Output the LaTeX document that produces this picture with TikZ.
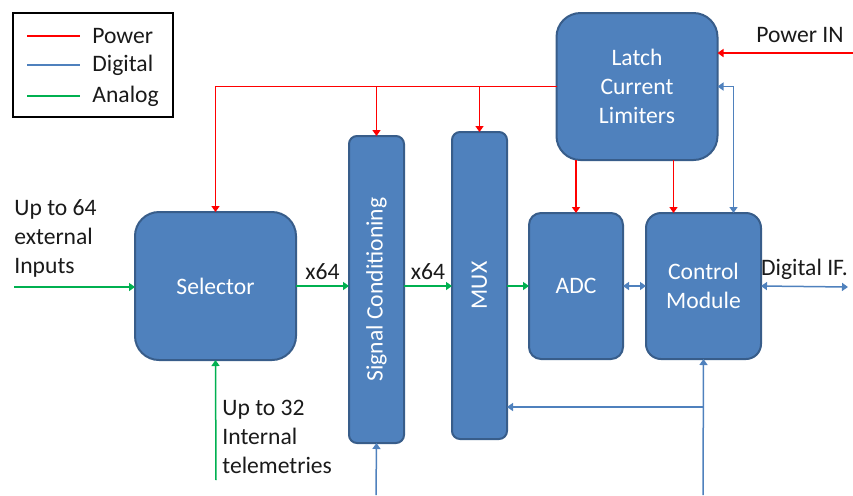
\documentclass[tikz,border=0pt]{standalone}
\usepackage{fontspec}
\setmainfont{Carlito}
\usetikzlibrary{arrows.meta}
\definecolor{boxblue}{HTML}{4F81BD}
\definecolor{boxedge}{HTML}{385D8A}
\definecolor{pwrred}{HTML}{FF0000}
\definecolor{anagreen}{HTML}{00B050}
\definecolor{txtgray}{HTML}{1A1A1A}
\tikzset{
  blk/.style={draw=boxedge,fill=boxblue,line width=1pt,text=white,align=center,outer sep=0pt,inner sep=0pt},
  pwr/.style={pwrred,line width=0.75pt},
  dig/.style={boxblue,line width=0.75pt},
  ana/.style={anagreen,line width=0.75pt},
  lbl/.style={inner sep=0pt,align=left,text=txtgray}
}
\begin{document}
\begin{tikzpicture}[x=0.5pt,y=-0.5pt,>={Triangle[width=4pt,length=3pt]},font=\fontsize{11.8}{14.5}\selectfont]
  \useasboundingbox (0,0) rectangle (853,495);
  % legend
  \draw[line width=0.6pt] (13,13) rectangle (173,117);
  \draw[pwr] (27,36) -- (80,36);
  \draw[dig] (27,65) -- (80,65);
  \draw[ana] (27,96) -- (80,96);
  \node[lbl,anchor=west] (lpwr) at (92,36) {Power};
  \node[lbl,anchor=west] (ldig) at (92,65) {Digital};
  \node[lbl,anchor=west] (lana) at (92,96) {Analog};
  % blocks
  \node[blk,rounded corners=12pt,minimum width=80.5pt,minimum height=73.5pt] (latch) at (637,86.5) {Latch\\Current\\Limiters};
  \node[blk,rounded corners=12pt,minimum width=80.5pt,minimum height=74pt] (sel) at (215.5,286) {Selector};
  \node[blk,rounded corners=4pt,minimum width=27.5pt,minimum height=153.5pt] (sig) at (376.5,289.5) {};
  \node[text=white,rotate=90] (sigtxt) at (sig.center) {Signal Conditioning};
  \node[blk,rounded corners=4pt,minimum width=27.5pt,minimum height=153.5pt] (mux) at (479.5,285.5) {};
  \node[text=white,rotate=90] (muxtxt) at (mux.center) {MUX};
  \node[blk,rounded corners=6pt,minimum width=47pt,minimum height=73pt] (adc) at (576,286) {ADC};
  \node[blk,rounded corners=7.5pt,minimum width=57.5pt,minimum height=73pt] (ctrl) at (703.5,286) {Control\\Module};
  % free ends
  \coordinate (pin) at (853,53);
  \coordinate (extin) at (14,287);
  \coordinate (intin) at (216,480);
  \coordinate (dif) at (848,287);
  \coordinate (cbot) at (703,495);
  \coordinate (sbot) at (376,495);
  \coordinate (br) at (703,407);
  % power
  \draw[pwr,->] (pin) -- (pin -| latch.east);
  \draw[pwr,->] (latch.west) -| (sel.north);
  \draw[pwr,->] (sig.north |- latch.west) -- (sig.north);
  \draw[pwr,->] (mux.north |- latch.west) -- (mux.north);
  \draw[pwr,->] (adc.north |- latch.south) -- (adc.north);
  \draw[pwr,->] ([xshift=-15pt]ctrl.north |- latch.south) -- ([xshift=-15pt]ctrl.north);
  \node[lbl,anchor=south] (pintxt) at (800,43) {Power IN};
  % analog
  \draw[ana,->] (extin) -- (extin -| sel.west);
  \draw[ana,->] (intin) -- (sel.south);
  \draw[ana,->] (sel.east) -- (sel.east -| sig.west) node[lbl,midway,above=3pt] (x64a) {x64};
  \draw[ana,->] (sig.east |- sel.east) -- (sel.east -| mux.west) node[lbl,midway,above=3pt] (x64b) {x64};
  \draw[ana,->] (mux.east |- sel.east) -- (sel.east -| adc.west);
  \node[lbl,anchor=west] (exttxt) at (14,238) {Up to 64\\external\\Inputs};
  \node[lbl,anchor=west] (inttxt) at (222,437) {Up to 32\\Internal\\telemetries};
  % digital
  \draw[dig,<->] (adc.east) -- (ctrl.west);
  \draw[dig,<->] (ctrl.east) -- (dif) node[lbl,midway,above=3pt] (diftxt) {Digital IF.};
  \draw[dig,<->] (latch.east) -| ([xshift=15pt]ctrl.north);
  \draw[dig,->] (cbot) -- (ctrl.south);
  \draw[dig,->] (br) -- (br -| mux.east);
  \draw[dig,->] (sbot) -- (sig.south);
\end{tikzpicture}
\end{document}
